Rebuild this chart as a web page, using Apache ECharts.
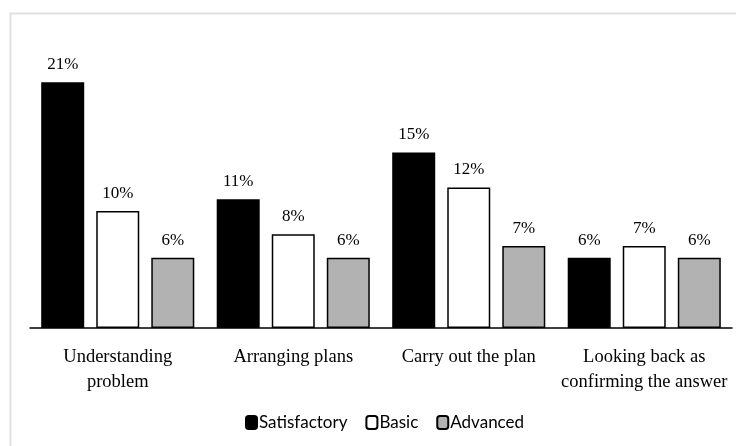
<!DOCTYPE html>
<html><head><meta charset="utf-8">
<script src="https://cdn.jsdelivr.net/npm/echarts@6/dist/echarts.min.js"></script>
<style>html,body{margin:0;padding:0;background:#fff;}#c{width:736px;height:446px;}</style>
</head><body><div id="c"></div>
<script>
const categories = ["Understanding\nproblem", "Arranging plans", "Carry out the plan", "Looking back as\nconfirming the answer"];
const satisfactory = [21, 11, 15, 6];
const basic = [10, 8, 12, 7];
const advanced = [6, 6, 7, 6];
const seriesNames = ["Satisfactory", "Basic", "Advanced"];

const chart = echarts.init(document.getElementById('c'), null, {renderer: 'canvas'});
const labelCfg = {show: true, position: 'top', distance: 9, formatter: '{c}%', fontFamily: 'Liberation Serif', fontSize: 17, color: '#000'};
function mk(name, data, color) {
  return {name, type: 'bar', data, barWidth: '24.5%', barGap: '28%',
    itemStyle: {color, borderColor: '#000', borderWidth: 1.5}, label: labelCfg};
}
chart.setOption({
  animation: false,
  graphic: [{type: 'rect', shape: {x: 10.5, y: 13.5, width: 800, height: 500}, style: {fill: 'none', stroke: '#e0e0e0', lineWidth: 2}, z: 0}],
  legend: {bottom: 10, left: 240, itemWidth: 11, itemHeight: 13, itemGap: 18,
    textStyle: {fontFamily: 'Lato', fontSize: 17, color: '#000', padding: [0, 0, 0, -3]},
    data: seriesNames},
  grid: {left: 30, right: 4, top: 47, bottom: 118, containLabel: false},
  xAxis: {type: 'category', data: categories,
    axisLine: {lineStyle: {color: '#000', width: 1.5}}, axisTick: {show: false},
    axisLabel: {margin: 17, fontFamily: 'Liberation Serif', fontSize: 18.5, color: '#000', lineHeight: 25, interval: 0}},
  yAxis: {type: 'value', min: 0, max: 24, show: false, splitLine: {show: false}},
  series: [mk(seriesNames[0], satisfactory, '#000'), mk(seriesNames[1], basic, '#fff'), mk(seriesNames[2], advanced, '#b2b2b2')]
});
</script></body></html>
